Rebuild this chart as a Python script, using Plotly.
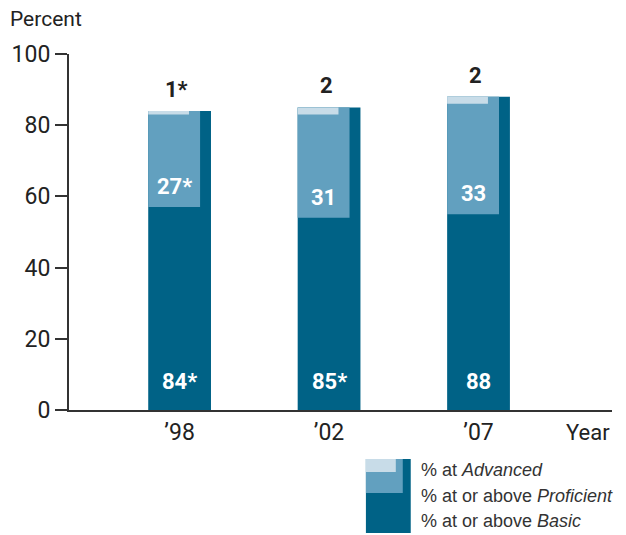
import plotly.graph_objects as go

years = ["\u201998", "\u201902", "\u201907"]
basic = [84, 85, 88]
proficient = [27, 31, 33]
advanced = [1, 2, 2]
basic_lbl = ["84*", "85*", "88"]
prof_lbl = ["27*", "31", "33"]
adv_lbl = ["1*", "2", "2"]

DARK = "#006286"
MED = "#62A0BF"
LIGHT = "#C8DCE8"
TXT = "#222222"
COND = "Roboto, sans-serif"
REG = "Liberation Sans, Arial, sans-serif"

xs = list(range(len(years)))
fig = go.Figure()
fig.add_trace(go.Bar(x=xs, y=basic, width=0.42, offset=-0.21,
                     marker=dict(color=DARK, line=dict(width=0)), hoverinfo="skip"))
fig.add_trace(go.Bar(x=xs, y=proficient, base=[b - p for b, p in zip(basic, proficient)],
                     width=0.347, offset=-0.21,
                     marker=dict(color=MED, line=dict(width=0)), hoverinfo="skip"))
fig.add_trace(go.Bar(x=xs, y=advanced, base=[b - a for b, a in zip(basic, advanced)],
                     width=0.273, offset=-0.21,
                     marker=dict(color=LIGHT, line=dict(width=0)), hoverinfo="skip"))

ann = []
for i in xs:
    ann.append(dict(x=i, y=0, text=basic_lbl[i], showarrow=False, yanchor="bottom",
                    yshift=14, font=dict(family=COND, size=22, color="white", weight="bold")))
    ann.append(dict(x=i - 0.035, y=basic[i] - proficient[i], text=prof_lbl[i], showarrow=False,
                    yanchor="bottom", yshift=6, font=dict(family=COND, size=22, color="white", weight="bold")))
    ann.append(dict(x=i - 0.02, y=basic[i], text=adv_lbl[i], showarrow=False,
                    yanchor="bottom", yshift=7, font=dict(family=COND, size=22, color=TXT, weight="bold")))

ann.append(dict(xref="paper", yref="paper", x=-0.113, y=1.0, yshift=35, xanchor="left",
                yanchor="middle", text="Percent", showarrow=False,
                font=dict(family=COND, size=21, color=TXT)))
ann.append(dict(xref="paper", yref="paper", x=0.955, y=0, yshift=-22, xanchor="center",
                yanchor="middle", text="Year", showarrow=False,
                font=dict(family=COND, size=22, color=TXT)))

legend_items = ["% at <i>Advanced</i>", "% at or above <i>Proficient</i>", "% at or above <i>Basic</i>"]
leg_y = [470, 496, 521]
for t, yy in zip(legend_items, leg_y):
    ann.append(dict(xref="paper", yref="paper", x=(418 - 67) / 545, y=(410 - yy) / 356,
                    xanchor="left", yanchor="middle", text=t, showarrow=False,
                    font=dict(family=REG, size=18, color="#333333")))

def px(xp):
    return (xp - 67) / 545

def py(yp):
    return (410 - yp) / 356

shapes = [
    dict(type="rect", xref="paper", yref="paper", x0=px(365), x1=px(410), y0=py(533), y1=py(459),
         fillcolor=DARK, line=dict(width=0)),
    dict(type="rect", xref="paper", yref="paper", x0=px(365), x1=px(402), y0=py(493), y1=py(459),
         fillcolor=MED, line=dict(width=0)),
    dict(type="rect", xref="paper", yref="paper", x0=px(365), x1=px(395), y0=py(472), y1=py(459),
         fillcolor=LIGHT, line=dict(width=0)),
]

fig.update_layout(
    width=626, height=535,
    margin=dict(l=67, r=14, t=54, b=125),
    paper_bgcolor="white", plot_bgcolor="white",
    barmode="overlay", showlegend=False,
    annotations=ann, shapes=shapes,
    xaxis=dict(range=[-0.74, 2.893], tickvals=xs, ticktext=years, showgrid=False,
               zeroline=False, showline=True, linecolor="#333333", linewidth=2,
               ticks="", tickfont=dict(family=COND, size=23, color=TXT)),
    yaxis=dict(range=[0, 100], tickvals=[0, 20, 40, 60, 80, 100], showgrid=False,
               zeroline=False, showline=True, linecolor="#333333", linewidth=2,
               ticks="outside", ticklen=12, tickwidth=2, tickcolor="#333333",
               tickfont=dict(family=COND, size=23, color=TXT)),
)

fig.write_html("out.html")
